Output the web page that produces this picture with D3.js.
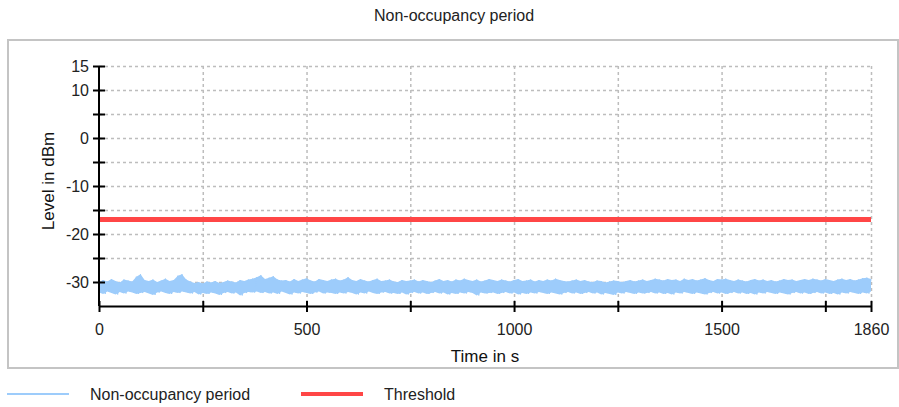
<!DOCTYPE html>
<html>
<head>
<meta charset="utf-8">
<script src="https://cdn.jsdelivr.net/npm/d3@7"></script>
<style>
  body { margin: 0; background: #fff; }
  svg { display: block; font-family: "Liberation Sans", Arial, sans-serif; }
  .grid line { stroke: #bdbdbd; stroke-width: 1.5; stroke-dasharray: 3,3; }
  .grid path { display: none; }
  .axis path, .axis line { stroke: #000; stroke-width: 2; }
  .axis text { font-size: 16px; fill: #222; }
</style>
</head>
<body>
<script>
// time axis
var timeTicks = [0, 250, 500, 750, 1000, 1250, 1500, 1750, 1860];
var timeLabels = [0, 500, 1000, 1500, 1860];
var levelTicks = [15, 10, 5, 0, -5, -10, -15, -20, -25, -30];
var levelLabels = [15, 10, 0, -10, -20, -30];

// threshold in dBm
var threshold = -17;

// noise samples every 10 s, upper and lower peak
var sampleStep = 10;
var noiseHigh = [
  -30.0,-29.6,-29.9,-29.4,-29.8,-30.1,-29.5,-29.7,-29.9,-28.9,-28.4,-29.6,-29.8,-29.5,-30.0,-29.7,-29.3,-29.8,-29.6,
  -28.7,-28.4,-29.5,-29.9,-30.2,-30.0,-30.3,-29.9,-30.1,-29.8,-30.2,-30.0,-29.7,-29.9,-30.1,-29.6,-29.8,-29.5,-29.3,
  -29.0,-28.6,-29.4,-29.1,-28.8,-29.5,-29.7,-29.6,-29.9,-29.4,-29.8,-29.5,-29.2,-29.7,-29.9,-29.4,-29.6,-29.8,-29.5,
  -29.3,-29.7,-29.5,-29.0,-29.6,-29.8,-29.4,-29.7,-29.9,-29.6,-29.3,-29.8,-29.7,-29.5,-29.9,-30.0,-29.6,-29.8,-29.7,
  -29.5,-29.9,-29.6,-29.8,-30.0,-29.7,-29.4,-29.8,-29.6,-29.9,-29.5,-29.7,-29.3,-29.6,-29.8,-29.5,-29.9,-29.7,-29.4,
  -29.6,-29.8,-29.5,-29.7,-29.9,-29.6,-29.4,-29.8,-29.7,-29.5,-29.9,-29.6,-29.8,-29.5,-29.7,-29.3,-29.6,-29.8,-29.9,
  -29.7,-29.5,-29.8,-29.6,-29.9,-30.0,-29.7,-29.8,-30.1,-29.9,-29.7,-29.8,-30.0,-29.8,-29.6,-29.9,-29.7,-29.5,-29.8,
  -29.6,-29.3,-29.5,-29.7,-29.4,-29.6,-29.5,-29.8,-29.3,-29.6,-29.4,-29.7,-29.5,-29.2,-29.6,-29.8,-29.4,-29.5,-29.3,
  -29.6,-29.8,-29.5,-29.7,-29.9,-29.6,-29.4,-29.7,-29.5,-29.8,-29.6,-29.9,-29.7,-29.4,-29.6,-29.5,-29.8,-29.6,-29.4,
  -29.6,-29.3,-29.5,-29.7,-29.4,-29.6,-29.8,-29.5,-29.3,-29.6,-29.4,-29.7,-29.5,-29.2,-29.1,-29.4
];
var noiseLow = [
  -32.2,-32.5,-32.0,-32.3,-32.6,-32.1,-32.4,-32.0,-32.2,-32.5,-32.3,-32.1,-32.4,-32.7,-32.2,-32.0,-32.3,-32.5,-32.1,
  -32.3,-32.0,-32.2,-32.4,-32.1,-32.6,-32.3,-32.5,-32.2,-32.4,-32.7,-32.3,-32.1,-32.4,-32.2,-32.8,-32.3,-32.1,-32.2,
  -32.0,-32.3,-32.1,-32.4,-32.2,-32.5,-32.0,-32.3,-32.6,-32.2,-32.4,-32.1,-32.3,-32.5,-32.2,-32.0,-32.4,-32.2,-32.3,
  -32.5,-32.2,-32.4,-32.1,-32.3,-32.6,-32.2,-32.4,-32.0,-32.3,-32.5,-32.2,-32.1,-32.4,-32.3,-32.5,-32.2,-32.6,-32.3,
  -32.1,-32.4,-32.2,-32.5,-32.3,-32.1,-32.4,-32.2,-32.6,-32.3,-32.5,-32.2,-32.4,-32.1,-32.3,-32.8,-32.2,-32.4,-32.3,
  -32.2,-32.5,-32.3,-32.1,-32.4,-32.2,-32.6,-32.3,-32.5,-32.2,-32.4,-32.1,-32.3,-32.5,-32.2,-32.4,-32.6,-32.3,-32.1,
  -32.4,-32.2,-32.5,-32.3,-32.1,-32.4,-32.2,-32.6,-32.3,-32.5,-32.7,-32.2,-32.4,-32.1,-32.3,-32.5,-32.2,-32.4,-32.3,
  -32.1,-32.4,-32.2,-32.5,-32.3,-32.6,-32.2,-32.4,-32.1,-32.3,-32.5,-32.2,-32.4,-32.6,-32.3,-32.1,-32.4,-32.2,-32.5,
  -32.3,-32.1,-32.4,-32.2,-32.5,-32.3,-32.6,-32.2,-32.4,-32.1,-32.3,-32.5,-32.2,-32.4,-32.6,-32.3,-32.1,-32.4,-32.2,
  -32.5,-32.3,-32.1,-32.4,-32.2,-32.5,-32.3,-32.6,-32.2,-32.4,-32.1,-32.3,-32.5,-32.2,-32.4,-32.0
];

var width = 899
  , height = 407
  , margin = {top: 66, right: 28, bottom: 101, left: 99}
  , innerW = width - margin.left - margin.right
  , innerH = height - margin.top - margin.bottom
  , noiseColor = '#9dccfb'
  , thresholdColor = '#ff4646'
;

var svg = d3.select('body').append('svg')
  .attr('width', width)
  .attr('height', height);

// frame round the plot
svg.append('rect')
  .attr('x', 8).attr('y', 40)
  .attr('width', 890).attr('height', 328)
  .attr('fill', 'none')
  .attr('stroke', '#c4c4c4')
  .attr('stroke-width', 2);

svg.append('text')
  .attr('x', 454).attr('y', 21)
  .attr('text-anchor', 'middle')
  .attr('font-size', 16)
  .attr('fill', '#222')
  .text('Non-occupancy period');

var g = svg.append('g').attr('transform', 'translate(' + margin.left + ',' + margin.top + ')');

var x = d3.scaleLinear().domain([0, 1860]).range([0, innerW]);
var y = d3.scaleLinear().domain([-35, 15]).range([innerH, 0]);

// grid
g.append('g').attr('class', 'grid')
  .call(d3.axisLeft(y).tickValues(levelTicks).tickSize(-innerW).tickFormat(''));
g.append('g').attr('class', 'grid')
  .call(d3.axisBottom(x).tickValues(timeTicks.slice(1)).tickSize(innerH).tickFormat(''));

// noise trace: body between the peaks, then a zigzag for texture
var band = noiseHigh.map(function(v, i) {
  return {t: Math.min(i * sampleStep, 1860), hi: v, lo: noiseLow[i]};
});
var pts = [];
band.forEach(function(d, i) {
  pts.push([d.t, d.hi]);
  if (d.t + sampleStep / 2 <= 1860) pts.push([d.t + sampleStep / 2, d.lo]);
});

var area = d3.area()
  .x(function(d) { return x(d.t); })
  .y0(function(d) { return y(d.lo); })
  .y1(function(d) { return y(d.hi); });

var line = d3.line()
  .x(function(d) { return x(d[0]); })
  .y(function(d) { return y(d[1]); });

g.append('path')
  .datum(band)
  .attr('d', area)
  .attr('fill', noiseColor);

g.append('path')
  .datum(pts)
  .attr('d', line)
  .attr('fill', 'none')
  .attr('stroke', noiseColor)
  .attr('stroke-width', 1);

g.append('path')
  .datum([[0, threshold], [1860, threshold]])
  .attr('d', line)
  .attr('fill', 'none')
  .attr('stroke', thresholdColor)
  .attr('stroke-width', 5);

// axes, ticks cross the line
var yAxis = g.append('g').attr('class', 'axis')
  .call(d3.axisLeft(y).tickValues(levelTicks).tickSizeInner(6).tickSizeOuter(0)
    .tickFormat(function(d) { return levelLabels.indexOf(d) >= 0 ? d : ''; }));
yAxis.select('.domain').attr('d', 'M0,' + y(15) + 'V' + innerH);
yAxis.selectAll('.tick line').attr('x1', 6).attr('x2', -6);
yAxis.selectAll('.tick text').attr('x', -10);

var xAxis = g.append('g').attr('class', 'axis')
  .attr('transform', 'translate(0,' + innerH + ')')
  .call(d3.axisBottom(x).tickValues(timeTicks).tickSizeInner(6).tickSizeOuter(0)
    .tickFormat(function(d) { return timeLabels.indexOf(d) >= 0 ? d : ''; }));
xAxis.selectAll('.tick line').attr('y1', -5).attr('y2', 6);
xAxis.selectAll('.tick text').attr('y', 18);

svg.append('text')
  .attr('x', margin.left + innerW / 2).attr('y', 362)
  .attr('text-anchor', 'middle')
  .attr('font-size', 17)
  .attr('fill', '#111')
  .text('Time in s');

svg.append('text')
  .attr('transform', 'translate(54,' + 181 + ') rotate(-90)')
  .attr('text-anchor', 'middle')
  .attr('font-size', 17)
  .attr('fill', '#111')
  .text('Level in dBm');

// legend
var legend = [
  {name: 'Non-occupancy period', color: noiseColor, w: 2, x: 7},
  {name: 'Threshold', color: thresholdColor, w: 4, x: 301}
];
var lg = svg.selectAll('g.legend').data(legend).enter().append('g')
  .attr('class', 'legend')
  .attr('transform', function(d) { return 'translate(' + d.x + ',394)'; });
lg.append('line')
  .attr('x1', 0).attr('x2', 62)
  .attr('stroke', function(d) { return d.color; })
  .attr('stroke-width', function(d) { return d.w; });
lg.append('text')
  .attr('x', 83).attr('y', 6)
  .attr('font-size', 16)
  .attr('fill', '#222')
  .text(function(d) { return d.name; });
</script>
</body>
</html>
